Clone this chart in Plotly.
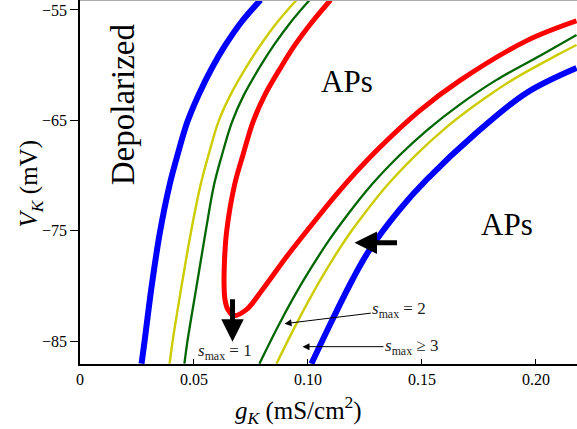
import plotly.graph_objects as go

# ---- data (gK in mS/cm^2, VK in mV) ----
left_vk = [-54.10, -56.09, -58.17, -60.16, -62.69, -65.13, -68.11, -70.83, -75.08, -80.05, -85.03, -87.02]

blue_left_gk = [0.0792, 0.0708, 0.0638, 0.0581, 0.0520, 0.0471, 0.0428, 0.0393, 0.0351, 0.0314, 0.0283, 0.0270]
blue_right_gk = [0.1015, 0.1107, 0.1195, 0.1270, 0.1401, 0.1520, 0.1739, 0.1958, 0.2178]
blue_right_vk = [-87.02, -83.04, -79.42, -76.71, -73.09, -70.37, -66.12, -62.51, -60.25]

yellow_left_gk = [0.0950, 0.0866, 0.0792, 0.0730, 0.0660, 0.0607, 0.0564, 0.0529, 0.0487, 0.0445, 0.0406, 0.0393]
yellow_right_gk = [0.0862, 0.0952, 0.1055, 0.1164, 0.1237, 0.1349, 0.1474, 0.1594, 0.1735, 0.1897, 0.2094, 0.2178]
yellow_right_vk = [-87.02, -83.31, -79.42, -75.80, -73.72, -70.83, -68.11, -65.85, -63.59, -61.33, -59.07, -58.17]

green_left_gk = [0.1007, 0.0925, 0.0851, 0.0789, 0.0719, 0.0667, 0.0623, 0.0588, 0.0551, 0.0511, 0.0471, 0.0458]
green_right_gk = [0.0787, 0.0877, 0.0982, 0.1094, 0.1167, 0.1279, 0.1404, 0.1524, 0.1664, 0.1827, 0.2024, 0.2178]
green_right_vk = [-87.02, -83.31, -79.42, -75.80, -73.72, -70.83, -68.11, -65.85, -63.59, -61.33, -59.07, -57.26]

red_gk = [0.1099, 0.1018, 0.0943, 0.0882, 0.0811, 0.0759, 0.0715, 0.0678, 0.0643, 0.0634, 0.0632,
          0.0636, 0.0649, 0.0673, 0.0730, 0.0800, 0.0906, 0.1020, 0.1138, 0.1300, 0.1489,
          0.1664, 0.1958, 0.2178]
red_vk = [-54.10, -56.09, -58.17, -60.16, -62.69, -65.13, -68.11, -70.83, -75.08, -77.61, -79.87,
          -81.23, -82.13, -82.67, -82.13, -80.32, -77.34, -74.35, -71.37, -67.75, -64.13,
          -61.42, -57.80, -55.99]

x_tickvals = [0, 0.05, 0.10, 0.15, 0.20]
x_ticktext = ["0", "0.05", "0.10", "0.15", "0.20"]
y_tickvals = [-85, -75, -65, -55]
y_ticktext = ["\u221285", "\u221275", "\u221265", "\u221255"]

X_RANGE = [0, 0.2180]
Y_RANGE = [-87.05, -54.1]

SERIF = "Liberation Serif"

fig = go.Figure()

def add_curve(gk, vk, color, width):
    fig.add_trace(go.Scatter(x=gk, y=vk, mode="lines",
                             line=dict(color=color, width=width, shape="spline", smoothing=1.0),
                             hoverinfo="skip", showlegend=False))

add_curve(blue_left_gk + [None] + blue_right_gk, left_vk + [None] + blue_right_vk, "#0000ff", 6)
add_curve(yellow_left_gk + [None] + yellow_right_gk, left_vk + [None] + yellow_right_vk, "#cccc00", 2.4)
add_curve(green_left_gk + [None] + green_right_gk, left_vk + [None] + green_right_vk, "#006600", 2.3)
add_curve(red_gk, red_vk, "#ff0000", 5)

annotations = [
    dict(x=0.0186, y=-63.5, text="Depolarized", textangle=-90, showarrow=False,
         font=dict(family=SERIF, size=33, color="black")),
    dict(x=0.1169, y=-61.5, text="APs", showarrow=False,
         font=dict(family=SERIF, size=31, color="black")),
    dict(x=0.1875, y=-74.45, text="APs", showarrow=False,
         font=dict(family=SERIF, size=31, color="black")),
    dict(x=0.0638, y=-86.0, text="<i>s</i><sub>max</sub> = 1", showarrow=False,
         font=dict(family=SERIF, size=17, color="#222")),
    dict(x=0.0897, y=-83.40, ax=0.1401, ay=-82.13, axref="x", ayref="y",
         text="<i>s</i><sub>max</sub> = 2", showarrow=True, arrowhead=2, arrowsize=1.4,
         arrowwidth=1, arrowcolor="black", xanchor="center",
         font=dict(family=SERIF, size=17, color="#222")),
    dict(x=0.0976, y=-85.48, ax=0.1454, ay=-85.48, axref="x", ayref="y",
         text="<i>s</i><sub>max</sub> \u2265 3", showarrow=True, arrowhead=2, arrowsize=1.4,
         arrowwidth=1, arrowcolor="black",
         font=dict(family=SERIF, size=17, color="#222")),
    # thick arrows
    dict(x=0.0669, y=-85.03, ax=0.0669, ay=-81.05, axref="x", ayref="y",
         text="", showarrow=True, arrowhead=2, arrowsize=0.9, arrowwidth=5, arrowcolor="black"),
    dict(x=0.1204, y=-76.07, ax=0.1397, ay=-76.07, axref="x", ayref="y",
         text="", showarrow=True, arrowhead=2, arrowsize=0.9, arrowwidth=5, arrowcolor="black"),
    # axis titles
    dict(xref="paper", yref="paper", x=-0.135, y=0.4945, textangle=-90, showarrow=False,
         text="<i>V</i><sub><i>K</i></sub> (mV)", font=dict(family=SERIF, size=25, color="black")),
    dict(xref="paper", yref="paper", x=0.4406, y=-0.182, showarrow=False,
         text="<i>g</i><sub><i>K</i></sub> (mS/cm<sup>2</sup>)", font=dict(family=SERIF, size=25, color="black")),
]

fig.update_layout(
    width=577, height=429,
    margin=dict(l=80, r=0, t=0, b=65),
    paper_bgcolor="white", plot_bgcolor="white",
    font=dict(family=SERIF),
    annotations=annotations,
    shapes=[dict(type="line", xref="paper", yref="paper", x0=0, x1=1, y0=1, y1=1,
                 line=dict(color="#aaaaaa", width=2))],
    xaxis=dict(range=X_RANGE, tickvals=x_tickvals, ticktext=x_ticktext,
               ticks="inside", ticklen=5, tickcolor="black", tickwidth=1,
               showline=True, linecolor="black", linewidth=1.5, showgrid=False, zeroline=False,
               tickfont=dict(family=SERIF, size=16, color="black")),
    yaxis=dict(range=Y_RANGE, tickvals=y_tickvals, ticktext=y_ticktext,
               ticks="outside", ticklen=8, tickcolor="black", tickwidth=1,
               showline=True, linecolor="black", linewidth=1.5, showgrid=False, zeroline=False,
               tickfont=dict(family=SERIF, size=16, color="black")),
)

fig.write_html("out.html", config={"displayModeBar": False},
               post_script="document.body.style.margin='0';")
